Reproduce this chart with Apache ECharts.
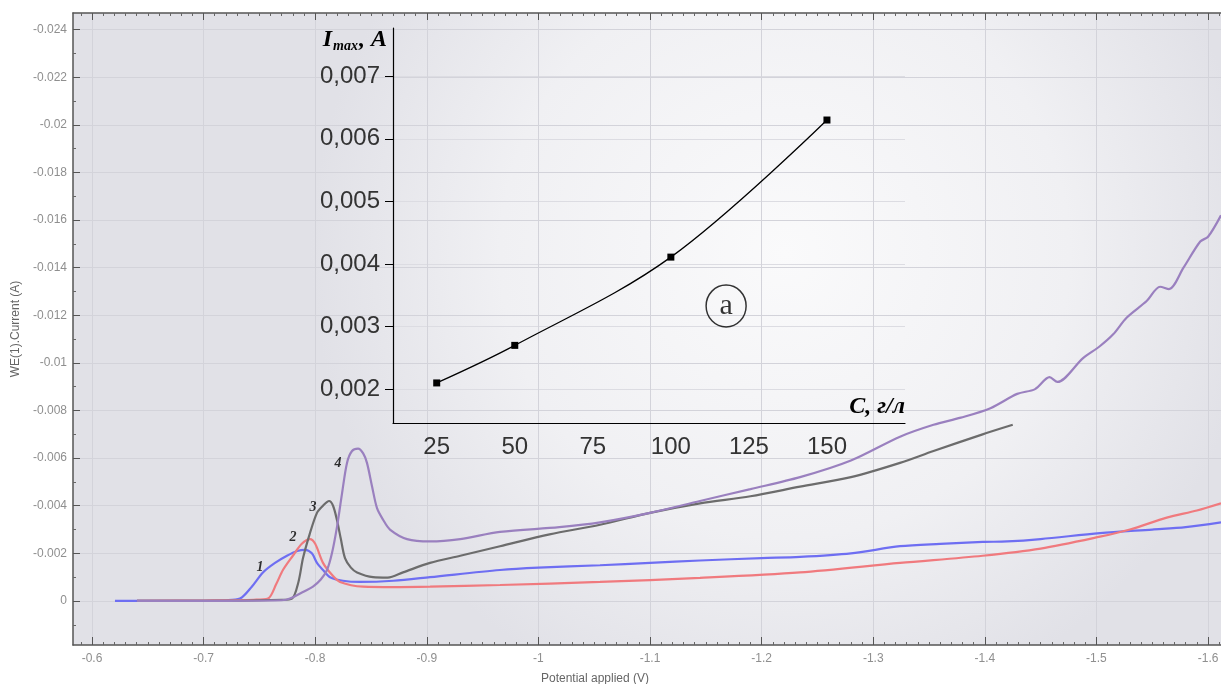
<!DOCTYPE html>
<html><head><meta charset="utf-8">
<script src="https://cdn.jsdelivr.net/npm/echarts/dist/echarts.min.js"></script>
<style>html,body{margin:0;padding:0;background:#fff}#c{width:1221px;height:684px}</style>
</head><body><div id="c"></div>
<script>
// Main chart: [potential applied (V), WE(1).Current (A)]
const curve1 = [[-0.6206,0],[-0.68,0],[-0.72,-0.00003],[-0.7326,-0.0001],[-0.7432,-0.0006],[-0.7532,-0.0012],[-0.764,-0.0016],[-0.7747,-0.0019],[-0.784,-0.0021],[-0.7909,-0.00215],[-0.797,-0.002],[-0.8016,-0.0016],[-0.807,-0.0013],[-0.8133,-0.001],[-0.8249,-0.00085],[-0.84,-0.0008],[-0.87,-0.00085],[-0.9029,-0.001],[-0.9656,-0.0013],[-1.0,-0.0014],[-1.0552,-0.0015],[-1.1,-0.0016],[-1.1448,-0.0017],[-1.2,-0.0018],[-1.2344,-0.00185],[-1.28,-0.002],[-1.324,-0.0023],[-1.36,-0.0024],[-1.3982,-0.00248],[-1.42,-0.0025],[-1.45,-0.0026],[-1.5032,-0.00285],[-1.55,-0.003],[-1.58,-0.0031],[-1.6116,-0.0033]];
const curve2 = [[-0.6403,0],[-0.7,-0.00002],[-0.745,-0.00005],[-0.7577,-0.0001],[-0.765,-0.0007],[-0.7711,-0.0013],[-0.78,-0.0019],[-0.788,-0.0024],[-0.7953,-0.0026],[-0.8,-0.0024],[-0.807,-0.0016],[-0.815,-0.0011],[-0.8222,-0.0008],[-0.8428,-0.0006],[-0.87,-0.00058],[-0.9029,-0.0006],[-0.9656,-0.00067],[-1.0552,-0.0008],[-1.1448,-0.00097],[-1.2344,-0.0012],[-1.324,-0.0016],[-1.398,-0.0019],[-1.45,-0.0022],[-1.5032,-0.0027],[-1.53,-0.003],[-1.563,-0.0035],[-1.59,-0.0038],[-1.6116,-0.0041]];
const curve3 = [[-0.6403,0],[-0.7,0],[-0.77,-0.00005],[-0.7792,-0.0001],[-0.785,-0.0008],[-0.7891,-0.0018],[-0.795,-0.0028],[-0.8016,-0.0037],[-0.807,-0.004],[-0.8124,-0.0042],[-0.816,-0.004],[-0.8195,-0.0034],[-0.823,-0.0026],[-0.8267,-0.0018],[-0.832,-0.0014],[-0.8375,-0.0012],[-0.8518,-0.001],[-0.865,-0.00098],[-0.8787,-0.0012],[-0.9029,-0.0016],[-0.93,-0.0019],[-0.9656,-0.0023],[-1.01,-0.0028],[-1.0552,-0.0032],[-1.1,-0.0037],[-1.1448,-0.0041],[-1.19,-0.0044],[-1.2344,-0.0048],[-1.28,-0.0052],[-1.324,-0.0058],[-1.354,-0.0063],[-1.398,-0.007],[-1.425,-0.0074]];
const curve4 = [[-0.6403,0],[-0.7,0],[-0.77,-0.00003],[-0.7774,-0.0001],[-0.79,-0.0004],[-0.798,-0.0006],[-0.805,-0.0009],[-0.8106,-0.0013],[-0.815,-0.002],[-0.8195,-0.0031],[-0.824,-0.0045],[-0.8285,-0.0058],[-0.833,-0.0063],[-0.8384,-0.0064],[-0.843,-0.0062],[-0.8464,-0.0058],[-0.851,-0.0048],[-0.8554,-0.0039],[-0.861,-0.0034],[-0.867,-0.003],[-0.8823,-0.0026],[-0.9029,-0.0025],[-0.93,-0.0026],[-0.9656,-0.0029],[-1.0188,-0.0031],[-1.0552,-0.0033],[-1.1,-0.0037],[-1.1448,-0.0042],[-1.19,-0.0047],[-1.2344,-0.0052],[-1.28,-0.0059],[-1.324,-0.0069],[-1.354,-0.0074],[-1.3785,-0.0077],[-1.405,-0.0081],[-1.429,-0.0087],[-1.445,-0.0089],[-1.458,-0.0094],[-1.465,-0.0092],[-1.488,-0.0102],[-1.503,-0.0107],[-1.515,-0.0112],[-1.527,-0.0119],[-1.545,-0.0126],[-1.557,-0.0132],[-1.565,-0.0131],[-1.578,-0.014],[-1.593,-0.0151],[-1.6,-0.0153],[-1.6116,-0.0162]];
const curveNames = ['1','2','3','4'];
const curveLabelPos = [[-0.7505,-0.00143],[-0.7801,-0.00269],[-0.798,-0.00394],[-0.8204,-0.00579]];
const xTicks = [-0.6,-0.7,-0.8,-0.9,-1,-1.1,-1.2,-1.3,-1.4,-1.5,-1.6];
const yTicks = [-0.024,-0.022,-0.02,-0.018,-0.016,-0.014,-0.012,-0.01,-0.008,-0.006,-0.004,-0.002,0];

// Inset (a): concentration C (g/L) vs I max (A)
const insetConc = [25, 50, 100, 150];
const insetImax = [0.0021, 0.0027, 0.00411, 0.0063];
const insetXTicks = [25, 50, 75, 100, 125, 150];
const insetYTicks = [0.002, 0.003, 0.004, 0.005, 0.006, 0.007];
const insetMarkLabel = 'a';
const insetMarkPos = [117.7, 0.00333];

// minor tick positions (axis decoration only)
const xMinor = []; for (let k = -161; k <= -59; k++) if (k % 10 !== 0) xMinor.push(k / 100);
const yMinor = []; for (let k = -23; k <= 1; k += 2) yMinor.push(k / 1000);

const X_MIN = -1.6116, X_MAX = -0.583, Y_MIN = -0.0247, Y_MAX = 0.00185;
const chart = echarts.init(document.getElementById('c'), null, {renderer:'canvas'});
const tickFont = {color:'#8f8f8f', fontSize:12, fontFamily:'Liberation Sans, Arial'};
const serifBI = {fontFamily:'Liberation Serif, Times New Roman', fontWeight:'bold', fontStyle:'italic', color:'#000'};
const axisCol = '#555';
const insetFont = {color:'#333', fontSize:24, fontFamily:'Liberation Sans, Arial'};

chart.setOption({
  animation:false,
  backgroundColor:'#ffffff',
  grid:[
    {left:73, top:13, right:0, bottom:39, show:true, borderWidth:0, containLabel:false, outerBoundsMode:'none',
     backgroundColor:{type:'radial', x:0.62, y:0.38, r:0.75,
       colorStops:[{offset:0,color:'#fafafb'},{offset:0.6,color:'#f0f0f3'},{offset:1,color:'#e1e1e7'}]}},
    {left:393, top:28, width:512, height:395, containLabel:false, outerBoundsMode:'none'}
  ],
  xAxis:[
    {type:'value', gridIndex:0, inverse:true, min:X_MIN, max:X_MAX,
     name:'Potential applied (V)', nameLocation:'middle', nameGap:28,
     nameTextStyle:{color:'#666', fontSize:12, fontFamily:'Liberation Sans, Arial', padding:[0,104,0,0]},
     axisLine:{show:true, onZero:false, lineStyle:{color:axisCol, width:1.5}},
     axisTick:{show:true, inside:true, length:8, customValues:xTicks, lineStyle:{color:axisCol}},
     axisLabel:{...tickFont, margin:8, customValues:xTicks, formatter:v => String(Number(v.toFixed(1)))},
     splitLine:{show:true, lineStyle:{color:'#d3d3da', width:1}}},
    {type:'value', gridIndex:0, position:'top', inverse:true, min:X_MIN, max:X_MAX,
     axisLine:{show:true, onZero:false, lineStyle:{color:axisCol, width:1.5}},
     axisTick:{show:true, inside:true, length:7, customValues:xTicks, lineStyle:{color:axisCol}},
     axisLabel:{show:false}, splitLine:{show:false}},
    {type:'value', gridIndex:0, position:'bottom', inverse:true, min:X_MIN, max:X_MAX,
     axisLine:{show:false, onZero:false}, axisLabel:{show:false}, splitLine:{show:false},
     axisTick:{show:true, inside:true, length:3, customValues:xMinor, lineStyle:{color:'#666'}}},
    {type:'value', gridIndex:0, position:'top', inverse:true, min:X_MIN, max:X_MAX,
     axisLine:{show:false, onZero:false}, axisLabel:{show:false}, splitLine:{show:false},
     axisTick:{show:true, inside:true, length:3, customValues:xMinor, lineStyle:{color:'#666'}}},
    {type:'value', gridIndex:1, min:11, max:175,
     name:'C, г/л', nameLocation:'end', nameGap:0,
     nameTextStyle:{...serifBI, fontSize:24, align:'right', verticalAlign:'bottom', padding:[0,0,4,0]},
     axisLine:{show:true, onZero:false, lineStyle:{color:'#000', width:1.2}},
     axisTick:{show:false, customValues:insetXTicks},
     axisLabel:{...insetFont, margin:12, customValues:insetXTicks},
     splitLine:{show:false}}
  ],
  yAxis:[
    {type:'value', gridIndex:0, inverse:true, min:Y_MIN, max:Y_MAX,
     name:'WE(1).Current (A)', nameLocation:'middle', nameGap:47,
     nameTextStyle:{color:'#666', fontSize:12, fontFamily:'Liberation Sans, Arial'},
     axisLine:{show:true, onZero:false, lineStyle:{color:axisCol, width:1.5}},
     axisTick:{show:true, inside:true, length:7, customValues:yTicks, lineStyle:{color:axisCol}},
     axisLabel:{...tickFont, margin:6, customValues:yTicks, formatter:v => String(Number(v.toFixed(3)))},
     splitLine:{show:true, lineStyle:{color:'#d3d3da', width:1}}},
    {type:'value', gridIndex:0, position:'left', inverse:true, min:Y_MIN, max:Y_MAX,
     axisLine:{show:false, onZero:false}, axisLabel:{show:false}, splitLine:{show:false},
     axisTick:{show:true, inside:true, length:3, customValues:yMinor, lineStyle:{color:'#666'}}},
    {type:'value', gridIndex:1, min:0.00146, max:0.00777,
     name:'{b|I}{s|max}{b|, A}', nameLocation:'end', nameGap:-12,
     nameTextStyle:{align:'right', verticalAlign:'middle', padding:[0,6,0,0],
       rich:{b:{...serifBI, fontSize:24}, s:{...serifBI, fontSize:14, padding:[12,1,0,1]}}},
     axisLine:{show:true, onZero:false, lineStyle:{color:'#000', width:1.2}},
     axisTick:{show:true, inside:false, length:8, customValues:insetYTicks, lineStyle:{color:'#000'}},
     axisLabel:{...insetFont, margin:13, customValues:insetYTicks,
       formatter:v => v.toFixed(3).replace('.', ',')},
     splitLine:{show:true, lineStyle:{color:'#dcdce2', width:1}}}
  ],
  series:[
    {type:'line', name:'1', xAxisIndex:0, yAxisIndex:0, data:curve1, showSymbol:false, smooth:0.3,
     lineStyle:{color:'#6e6ef2', width:2.2}},
    {type:'line', name:'2', xAxisIndex:0, yAxisIndex:0, data:curve2, showSymbol:false, smooth:0.3,
     lineStyle:{color:'#f07a7e', width:2.2}},
    {type:'line', name:'3', xAxisIndex:0, yAxisIndex:0, data:curve3, showSymbol:false, smooth:0.3,
     lineStyle:{color:'#6c6c6c', width:2.2}},
    {type:'line', name:'4', xAxisIndex:0, yAxisIndex:0, data:curve4, showSymbol:false, smooth:0.3,
     lineStyle:{color:'#9a80bf', width:2.2}},
    {type:'scatter', xAxisIndex:0, yAxisIndex:0, symbolSize:0, silent:true,
     data:curveNames.map((n,i)=>({name:n, value:curveLabelPos[i]})),
     label:{show:true, position:'inside', formatter:p=>p.name, ...serifBI, fontSize:14}},
    {type:'line', xAxisIndex:4, yAxisIndex:2, data:insetConc.map((c,i)=>[c, insetImax[i]]),
     smooth:0.35, symbol:'rect', symbolSize:7, showSymbol:true,
     itemStyle:{color:'#000'}, lineStyle:{color:'#000', width:1.3}},
    {type:'scatter', xAxisIndex:4, yAxisIndex:2, data:[{name:insetMarkLabel, value:insetMarkPos}],
     symbol:'circle', symbolSize:[40,42], silent:true,
     itemStyle:{color:'rgba(255,255,255,0)', borderColor:'#000', borderWidth:1.5},
     label:{show:true, position:'inside', formatter:p=>p.name, color:'#000',
       fontFamily:'Liberation Serif, Times New Roman', fontSize:30, padding:[0,0,6,0]}}
  ]
});
</script></body></html>
